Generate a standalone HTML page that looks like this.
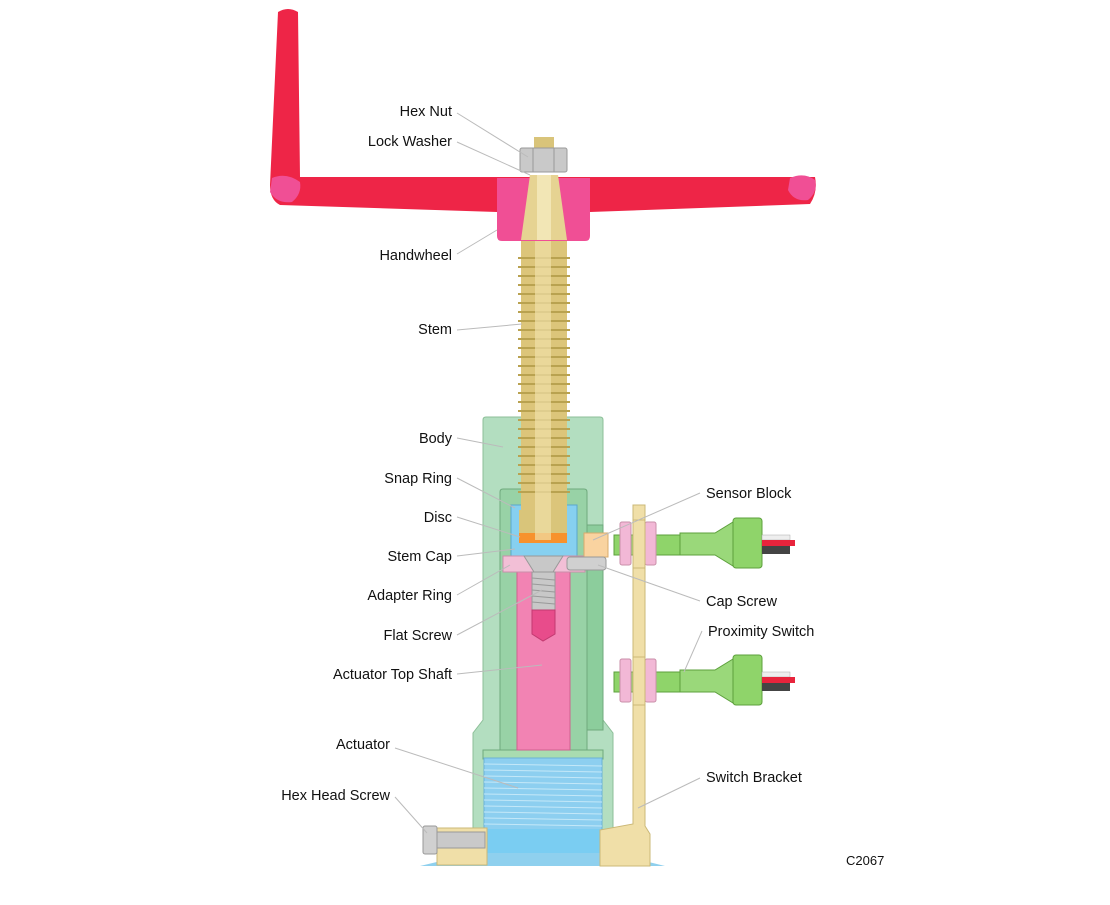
<!DOCTYPE html>
<html><head><style>
body{margin:0;background:#fff}
svg text{font-family:"Liberation Sans",Arial,sans-serif;font-size:14.5px;fill:#111}
</style></head><body>
<svg width="1110" height="900" viewBox="0 0 1110 900" xmlns="http://www.w3.org/2000/svg">
<!-- base -->
<polygon points="487,850 600,850 665,866 420,866" fill="#8fd0ee"/>
<!-- body -->
<path d="M483,420 q0,-3 3,-3 h114 q3,0 3,3 V720 l10,13 V830 H473 V733 l10,-13 Z" fill="#b3dec0" stroke="#8cbf98"/>
<path d="M500,492 q0,-3 3,-3 h81 q3,0 3,3 V750 H500 Z" fill="#98d2a6" stroke="#6fa97d"/>
<rect x="587" y="525" width="16" height="205" fill="#8ccd9c" stroke="#6fa97d"/>
<!-- actuator -->
<rect x="483" y="750" width="120" height="9" fill="#a9dcb0" stroke="#6fa97d"/>
<rect x="484" y="758" width="118" height="72" fill="#8dcff0" stroke="#6bb2d6"/>
<g stroke="#c4e8f8" stroke-width="1">
<line x1="484" y1="764" x2="602" y2="766"/><line x1="484" y1="770" x2="602" y2="772"/><line x1="484" y1="776" x2="602" y2="778"/><line x1="484" y1="782" x2="602" y2="784"/><line x1="484" y1="788" x2="602" y2="790"/><line x1="484" y1="794" x2="602" y2="796"/><line x1="484" y1="800" x2="602" y2="802"/><line x1="484" y1="806" x2="602" y2="808"/><line x1="484" y1="812" x2="602" y2="814"/><line x1="484" y1="818" x2="602" y2="820"/><line x1="484" y1="824" x2="602" y2="826"/></g>
<rect x="487" y="829" width="113" height="24" fill="#7acdf2"/>
<!-- actuator top shaft -->
<rect x="517" y="572" width="53" height="178" fill="#f283b3" stroke="#d0608f"/>
<!-- stem cap cup -->
<rect x="511" y="505" width="66" height="51" fill="#86d0f0" stroke="#5aa7cc"/>
<rect x="519" y="510" width="48" height="33" fill="#d9c57a"/>
<rect x="519" y="533" width="48" height="10" fill="#f7922d"/>
<!-- adapter ring -->
<polygon points="503,556 585,556 585,572 503,572" fill="#f2bfd6" stroke="#c98fa9"/>
<polygon points="524,556 563,556 553,572 534,572" fill="#c8c8c8" stroke="#999"/>
<!-- flat screw -->
<rect x="532" y="572" width="23" height="38" fill="#c8c8c8" stroke="#999"/>
<g stroke="#999"><line x1="532" y1="578" x2="555" y2="580"/><line x1="532" y1="584" x2="555" y2="586"/><line x1="532" y1="590" x2="555" y2="592"/><line x1="532" y1="596" x2="555" y2="598"/><line x1="532" y1="602" x2="555" y2="604"/></g>
<polygon points="532,610 555,610 555,634 543,641 532,634" fill="#e84c8b" stroke="#c23a70"/>
<!-- sensor block & cap screw -->
<rect x="584" y="533" width="24" height="24" fill="#f9d3a0" stroke="#d8ab6c"/>
<rect x="567" y="557" width="39" height="13" rx="3" fill="#d0d0d0" stroke="#999"/>
<!-- stem -->
<rect x="521" y="230" width="46" height="280" fill="#dcc57a"/>
<g stroke="#b9a250" stroke-width="2">
<path d="M518,258 h52 M518,267 h52 M518,276 h52 M518,285 h52 M518,294 h52 M518,303 h52 M518,312 h52 M518,321 h52 M518,330 h52 M518,339 h52 M518,348 h52 M518,357 h52 M518,366 h52 M518,375 h52 M518,384 h52 M518,393 h52 M518,402 h52 M518,411 h52 M518,420 h52 M518,429 h52 M518,438 h52 M518,447 h52 M518,456 h52 M518,465 h52 M518,474 h52 M518,483 h52 M518,492 h52"/></g>
<rect x="535" y="230" width="16" height="310" fill="#efe0a8" opacity="0.7"/>
<polygon points="530,175 558,175 567,230 521,230" fill="#e6d392"/>
<rect x="534" y="137" width="20" height="12" fill="#d9c47a"/>
<!-- handwheel -->
<path d="M278,12 q10,-6 20,0 l2,165 H815 q3,15 -5,27 L590,212 H497 L280,205 q-10,-5 -10,-20 Z" fill="#ee2547"/>
<path d="M497,178 h93 v58 q0,5 -5,5 h-83 q-5,0 -5,-5 Z" fill="#f04f95"/>
<polygon points="530,175 558,175 567,240 521,240" fill="#e6d392"/>
<rect x="537" y="175" width="14" height="65" fill="#f2e6b5"/>
<path d="M272,178 q14,-6 28,4 q2,12 -8,20 q-15,2 -22,-10 Z" fill="#f04f95"/>
<path d="M790,178 q14,-6 25,2 q3,12 -7,20 q-14,2 -20,-10 Z" fill="#f04f95"/>
<rect x="520" y="148" width="47" height="24" rx="2" fill="#c9c9c9" stroke="#999"/>
<line x1="533" y1="148" x2="533" y2="172" stroke="#999"/><line x1="554" y1="148" x2="554" y2="172" stroke="#999"/>
<!-- bracket -->
<path d="M633,505 h12 V826 l5,8 V866 H600 V830 l33,-6 Z" fill="#f0dfa8" stroke="#cbb877"/>
<!-- hex head screw -->
<rect x="437" y="828" width="50" height="37" fill="#f0dfa8" stroke="#cbb877"/>
<rect x="437" y="832" width="48" height="16" fill="#c9c9c9" stroke="#999"/>
<rect x="423" y="826" width="14" height="28" rx="2" fill="#d0d0d0" stroke="#999"/>
<!-- proximity switches -->
<g id="ps">
<rect x="614" y="535" width="120" height="20" fill="#8fd46a" stroke="#5da03c"/>
<rect x="620" y="522" width="11" height="43" rx="2" fill="#f2b8d6" stroke="#c98fa9"/>
<rect x="645" y="522" width="11" height="43" rx="2" fill="#f2b8d6" stroke="#c98fa9"/>
<rect x="633" y="520" width="12" height="48" fill="#f0dfa8" stroke="#cbb877"/>
<polygon points="680,533 715,533 733,522 733,566 715,555 680,555" fill="#9ad87a" stroke="#5da03c"/>
<rect x="733" y="518" width="29" height="50" rx="3" fill="#8fd46a" stroke="#5da03c"/>
<rect x="762" y="535" width="28" height="5" fill="#eee" stroke="#aaa" stroke-width=".5"/>
<rect x="762" y="540" width="33" height="6" fill="#e8243c"/>
<rect x="762" y="546" width="28" height="8" fill="#444"/>
</g>
<use href="#ps" transform="translate(0,137)"/>
<!-- leaders -->
<g stroke="#bbb" stroke-width="1" fill="none">
<line x1="457" y1="113" x2="528" y2="157"/>
<line x1="457" y1="142" x2="530" y2="175"/>
<line x1="457" y1="254" x2="497" y2="230"/>
<line x1="457" y1="330" x2="522" y2="324"/>
<line x1="457" y1="438" x2="503" y2="447"/>
<line x1="457" y1="478" x2="515" y2="508"/>
<line x1="457" y1="517" x2="520" y2="537"/>
<line x1="457" y1="556" x2="515" y2="549"/>
<line x1="457" y1="595" x2="510" y2="565"/>
<line x1="457" y1="635" x2="542" y2="590"/>
<line x1="457" y1="674" x2="542" y2="665"/>
<line x1="395" y1="748" x2="518" y2="788"/>
<line x1="395" y1="797" x2="427" y2="833"/>
<line x1="700" y1="493" x2="593" y2="540"/>
<line x1="700" y1="601" x2="598" y2="565"/>
<line x1="702" y1="631" x2="684" y2="672"/>
<line x1="700" y1="778" x2="638" y2="808"/>
</g>
<!-- labels -->
<g text-anchor="end">
<text x="452" y="116">Hex Nut</text>
<text x="452" y="146">Lock Washer</text>
<text x="452" y="260">Handwheel</text>
<text x="452" y="334">Stem</text>
<text x="452" y="443">Body</text>
<text x="452" y="483">Snap Ring</text>
<text x="452" y="522">Disc</text>
<text x="452" y="561">Stem Cap</text>
<text x="452" y="600">Adapter Ring</text>
<text x="452" y="640">Flat Screw</text>
<text x="452" y="679">Actuator Top Shaft</text>
<text x="390" y="749">Actuator</text>
<text x="390" y="800">Hex Head Screw</text>
</g>
<text x="706" y="498">Sensor Block</text>
<text x="706" y="606">Cap Screw</text>
<text x="708" y="636">Proximity Switch</text>
<text x="706" y="782">Switch Bracket</text>
<text x="846" y="865" style="font-size:13px">C2067</text>
</svg>
</body></html>
